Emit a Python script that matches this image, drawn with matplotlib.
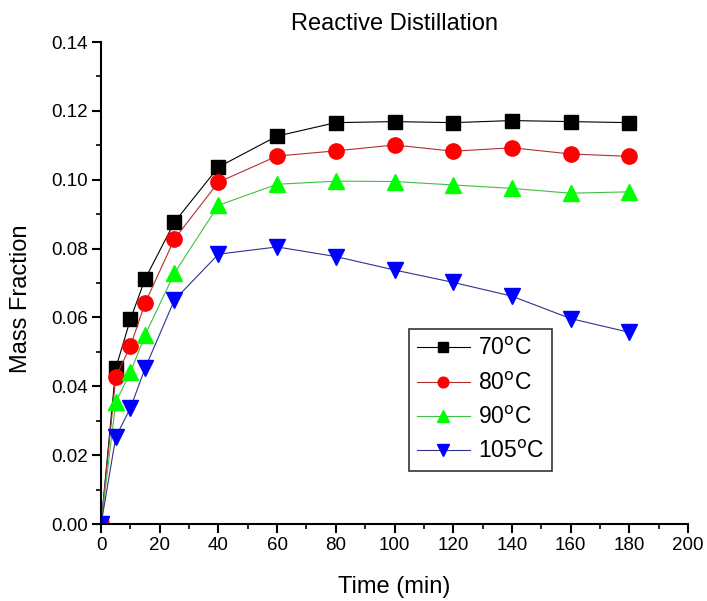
import numpy as np
import matplotlib.pyplot as plt
from matplotlib.ticker import MultipleLocator, FormatStrFormatter

plt.rcParams['font.family'] = ['Liberation Sans', 'DejaVu Sans']

time_min = [0, 5, 10, 15, 25, 40, 60, 80, 100, 120, 140, 160, 180]
frac_70 = [0.0, 0.0453, 0.0595, 0.0712, 0.0877, 0.1037, 0.1127, 0.1166, 0.1169, 0.1166, 0.1172, 0.1169, 0.1166]
frac_80 = [0.0, 0.0427, 0.0517, 0.0642, 0.0828, 0.0993, 0.1069, 0.1084, 0.1101, 0.1083, 0.1093, 0.1075, 0.1068]
frac_90 = [0.0, 0.0354, 0.0441, 0.0549, 0.0729, 0.0926, 0.0987, 0.0996, 0.0995, 0.0985, 0.0975, 0.0961, 0.0965]
frac_105 = [0.0, 0.0253, 0.0337, 0.0453, 0.0651, 0.0784, 0.0805, 0.0777, 0.0738, 0.0702, 0.0662, 0.0597, 0.0557]

series = [
    (frac_70, '70$^\\mathrm{o}$C', 's', 'black', 'black', 10),
    (frac_80, '80$^\\mathrm{o}$C', 'o', 'red', '#b03030', 11),
    (frac_90, '90$^\\mathrm{o}$C', '^', '#00ff00', '#40c040', 12),
    (frac_105, '105$^\\mathrm{o}$C', 'v', 'blue', '#303090', 12),
]

fig = plt.figure(figsize=(7.07, 6.01), dpi=100)
ax = fig.add_axes([0.143, 0.128, 0.830, 0.802])

for vals, label, marker, mcolor, lcolor, ms in series:
    ax.plot(time_min, vals, color=lcolor, lw=0.8, marker=marker, markersize=ms,
            markerfacecolor=mcolor, markeredgecolor=mcolor, label=label)

ax.set_xlim(0, 200)
ax.set_ylim(0, 0.14)
ax.xaxis.set_major_locator(MultipleLocator(20))
ax.xaxis.set_minor_locator(MultipleLocator(10))
ax.yaxis.set_major_locator(MultipleLocator(0.02))
ax.yaxis.set_minor_locator(MultipleLocator(0.01))
ax.yaxis.set_major_formatter(FormatStrFormatter('%.2f'))

for side in ['top', 'right']:
    ax.spines[side].set_visible(False)
for side in ['left', 'bottom']:
    ax.spines[side].set_linewidth(1.5)
ax.tick_params(which='major', direction='out', length=6.5, width=1.5, labelsize=13.5, pad=3)
ax.tick_params(which='minor', direction='out', length=3.5, width=1.2)

ax.set_xlabel('Time (min)', fontsize=17, labelpad=16)
ax.set_ylabel('Mass Fraction', fontsize=17)
ax.yaxis.set_label_coords(-0.1175, 0.467)
ax.set_title('Reactive Distillation', fontsize=17, pad=9)

leg = ax.legend(loc='upper left', bbox_to_anchor=(0.5247, 0.4046), fontsize=16.5,
                frameon=True, fancybox=False, edgecolor='black', markerscale=0.7,
                handlelength=2.3, handletextpad=0.35, labelspacing=0.5,
                borderpad=0.35, borderaxespad=0)
leg.get_frame().set_linewidth(1.2)

fig.savefig('out.png', dpi=100)
